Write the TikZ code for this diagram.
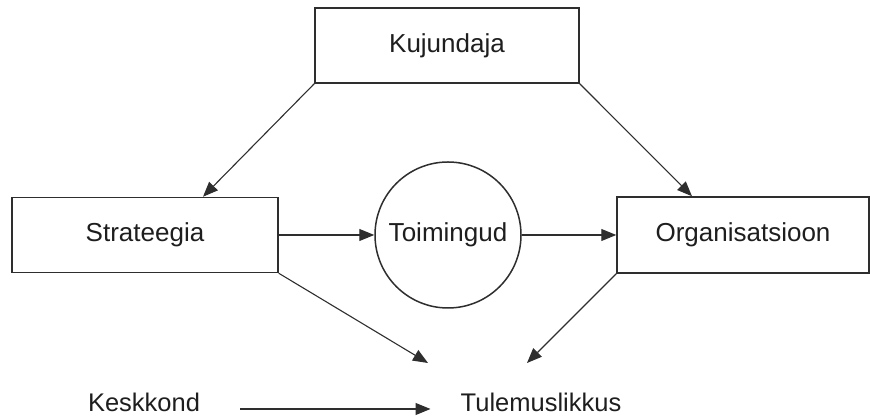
\documentclass[tikz,border=0pt]{standalone}
\usepackage{fontspec}
\setmainfont{Liberation Sans}
\usetikzlibrary{positioning, shapes.geometric, arrows.meta, calc}
\definecolor{lnedge}{HTML}{2E2E2E}
\definecolor{lntext}{HTML}{1E1E1E}

\begin{document}
\begin{tikzpicture}[x=1pt, y=1pt,
    box/.style={draw=lnedge, line width=1.5pt, fill=white, text=lntext,
                font=\fontsize{26}{31}\selectfont},
    label/.style={text=lntext, inner sep=0pt, anchor=base,
                  font=\fontsize{25.5}{30}\selectfont},
    arr/.style={-{Triangle[length=15pt, width=12pt]}, line width=1.1pt, draw=lnedge}]
        \useasboundingbox (0,0) rectangle (870,419);
        % boxes
        \node[box, minimum width=264pt, minimum height=75pt] (kuj) at (447,373.5) {Kujundaja};
        \node[box, minimum width=266pt, minimum height=75pt] (str) at (145,184) {Strateegia};
        \node[box, minimum width=252pt, minimum height=76pt] (org) at (743,184) {Organisatsioon};
        \node[box, circle, minimum size=146pt, inner sep=0pt] (toim) at (448,184) {Toimingud};
        % plain labels at the bottom
        \node[label] (kesk) at (144,7) {Keskkond};
        \node[label] (tul) at (541,7) {Tulemuslikkus};
        \coordinate (tula) at (428,56);
        \coordinate (tulb) at (527,56);
        % connectors
        \draw[arr] (kuj.south west) -- ([xshift=58pt]str.north);
        \draw[arr] (kuj.south east) -- ([xshift=-51pt]org.north);
        \draw[arr] (str.east) -- (toim.west);
        \draw[arr] (toim.east) -- (org.west);
        \draw[arr] (str.south east) -- (tula);
        \draw[arr] (org.south west) -- (tulb);
        \draw[arr] ([shift={(40pt,3pt)}]kesk.base east) -- ([shift={(-30pt,3pt)}]tul.base west);
      \end{tikzpicture}
\end{document}
